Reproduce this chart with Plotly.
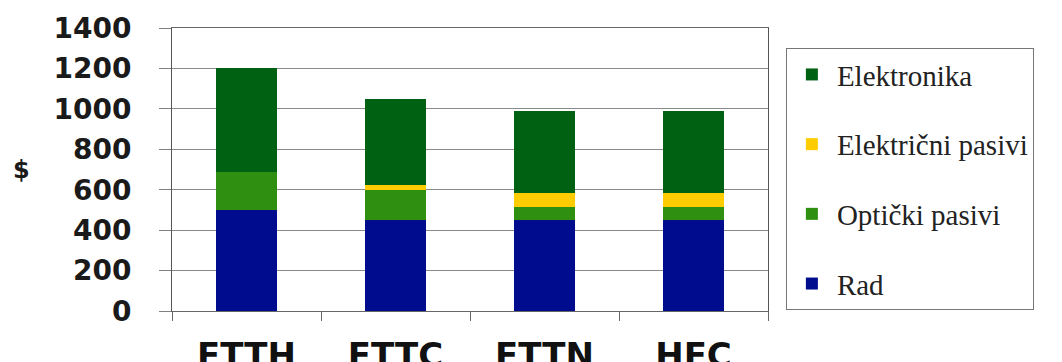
import plotly.graph_objects as go

# Cost breakdown per access technology (USD)
categories = ["FTTH", "FTTC", "FTTN", "HFC"]
rad = [500, 450, 450, 450]
opticki_pasivi = [190, 150, 65, 65]
elektricni_pasivi = [0, 25, 70, 70]
elektronika = [510, 425, 405, 405]

y_ticks = [0, 200, 400, 600, 800, 1000, 1200, 1400]

# (name, values, colour, legend position from top)
series = [
    ("Rad", rad, "#000c8e", 4),
    ("Optički pasivi", opticki_pasivi, "#2e8f10", 3),
    ("Električni pasivi", elektricni_pasivi, "#ffcc00", 2),
    ("Elektronika", elektronika, "#006112", 1),
]

fig = go.Figure()
for name, vals, color, rank in series:
    fig.add_trace(go.Bar(
        x=categories, y=vals, name=name,
        marker=dict(color=color, line=dict(width=0)),
        legendgroup=name, legendrank=rank,
    ))

fig.update_layout(
    barmode="stack",
    bargap=0.59,
    width=1062, height=362,
    margin=dict(l=172, r=294, t=28, b=51, autoexpand=False),
    paper_bgcolor="white",
    plot_bgcolor="white",
    showlegend=True,
    legend=dict(
        x=1.03, y=0.929, xanchor="left", yanchor="top",
        traceorder="grouped",
        tracegroupgap=29,
        itemwidth=40,
        bgcolor="white",
        bordercolor="#777777", borderwidth=1,
        font=dict(family="Liberation Serif, DejaVu Serif, Times New Roman, serif",
                  size=29, color="#222222"),
    ),
    xaxis=dict(
        type="category",
        tickson="boundaries",
        ticks="outside", ticklen=9, tickcolor="#666666", tickwidth=1,
        showline=True, linecolor="#666666", linewidth=1, mirror=True,
        showgrid=False,
        tickfont=dict(family="DejaVu Sans", size=34, color="#111111", weight="bold"),
        ticklabelstandoff=14,
    ),
    yaxis=dict(
        range=[0, 1400],
        tickvals=y_ticks,
        ticktext=[str(v) for v in y_ticks],
        ticks="outside", ticklen=12, tickcolor="#808080", tickwidth=1,
        showline=True, linecolor="#555555", linewidth=1, mirror=True,
        showgrid=True, gridcolor="#8a8a8a", gridwidth=1,
        zeroline=False,
        tickfont=dict(family="DejaVu Sans", size=28, color="#1a1a1a", weight="bold"),
        ticklabelstandoff=22,
    ),
)

fig.add_annotation(
    text="$", xref="paper", yref="paper",
    x=-0.252, y=0.5, xanchor="center", yanchor="middle", showarrow=False,
    font=dict(family="DejaVu Sans", size=24, color="#1a1a1a", weight="bold"),
)

fig.write_html("out.html")
